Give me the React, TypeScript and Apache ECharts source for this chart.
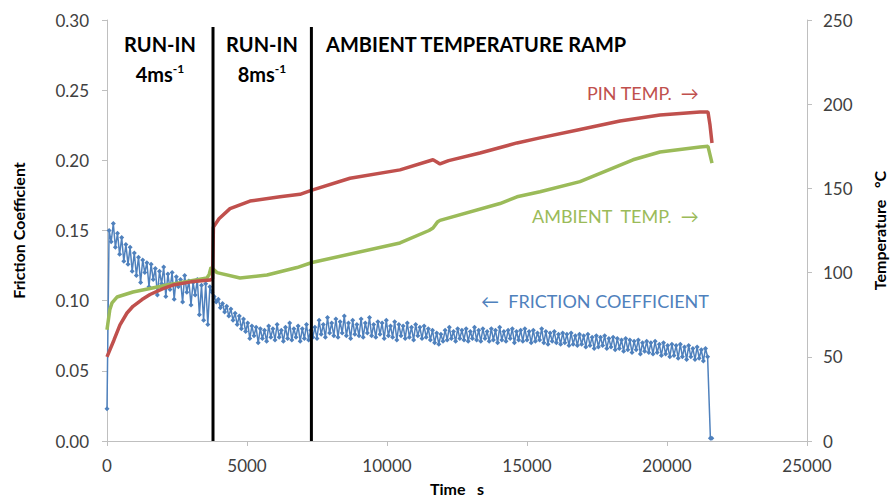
import React, { useEffect, useRef } from "react";
import * as echarts from "echarts";

// Axis scales
const X_MIN = 0;
const X_MAX = 25000;
const X_INTERVAL = 5000;
const F_MIN = 0;
const F_MAX = 0.3;
const F_INTERVAL = 0.05;
const T_MIN = 0;
const T_MAX = 250;
const T_INTERVAL = 50;

// Phase boundaries (s)
const phaseLines = [3786, 7300];
const phaseLineTop = 0.295;

// Pin temperature [time s, °C]
const pinTemp: [number, number][] = [
  [0, 50], [100, 54], [250, 60], [464, 69], [714, 76], [929, 80], [1250, 84],
  [1536, 87], [2000, 90.5], [2357, 92.6], [3000, 94.5], [3679, 95.6], [3770, 96.2],
  [3800, 127], [4000, 132], [4393, 138], [5107, 142.5], [6179, 145], [6893, 146.5],
  [7321, 149], [8679, 156], [10464, 161], [11643, 167], [11750, 166], [11893, 164.5],
  [12200, 166.5], [13321, 171], [14643, 177], [15464, 180], [16893, 185], [18321, 190],
  [19750, 193.6], [21179, 195.4], [21464, 195.4], [21536, 187.6], [21607, 177],
];

// Ambient temperature [time s, °C]
const ambientTemp: [number, number][] = [
  [0, 66], [100, 78], [179, 82], [357, 85.5], [929, 88.5], [2143, 92.6], [3571, 96.8],
  [3650, 99], [3714, 103], [3800, 102], [3929, 100], [4750, 96.8], [5714, 98.6],
  [6786, 103], [7321, 106], [10464, 117.6], [11500, 125], [11643, 126.5], [11800, 130],
  [11893, 131], [14036, 141], [14643, 145], [15464, 148], [16893, 154], [18786, 167],
  [19750, 171.6], [21179, 174.6], [21464, 175], [21607, 165],
];

// Friction coefficient, sampled every FRICTION_STEP s starting at 0
const FRICTION_STEP = 75;
const frictionValues: number[] = [
  0.023, 0.150, 0.142, 0.155, 0.138, 0.148, 0.133, 0.145, 0.128, 0.140,
  0.126, 0.138, 0.121, 0.134, 0.118, 0.131, 0.113, 0.129, 0.120, 0.127,
  0.110, 0.126, 0.115, 0.123, 0.104, 0.121, 0.112, 0.124, 0.103, 0.119,
  0.108, 0.120, 0.101, 0.117, 0.110, 0.115, 0.099, 0.118, 0.106, 0.114,
  0.097, 0.113, 0.104, 0.115, 0.090, 0.111, 0.086, 0.112, 0.083, 0.110,
  0.106, 0.103, 0.099, 0.101, 0.095, 0.098, 0.092, 0.096, 0.089, 0.094,
  0.086, 0.091, 0.083, 0.089, 0.080, 0.087, 0.078, 0.084, 0.073, 0.082,
  0.075, 0.081, 0.070, 0.080, 0.073, 0.079, 0.071, 0.082, 0.074, 0.080,
  0.072, 0.083, 0.074, 0.079, 0.071, 0.081, 0.073, 0.084, 0.072, 0.080,
  0.074, 0.082, 0.071, 0.080, 0.073, 0.083, 0.072, 0.079, 0.074, 0.081,
  0.073, 0.086, 0.076, 0.083, 0.074, 0.088, 0.077, 0.084, 0.075, 0.087,
  0.074, 0.085, 0.077, 0.089, 0.075, 0.084, 0.073, 0.086, 0.076, 0.083,
  0.075, 0.087, 0.074, 0.084, 0.077, 0.088, 0.075, 0.083, 0.074, 0.085,
  0.076, 0.084, 0.073, 0.086, 0.075, 0.082, 0.074, 0.085, 0.072, 0.083,
  0.075, 0.082, 0.073, 0.084, 0.074, 0.081, 0.072, 0.083, 0.075, 0.081,
  0.073, 0.082, 0.074, 0.080, 0.072, 0.079, 0.070, 0.077, 0.069, 0.076,
  0.071, 0.079, 0.072, 0.081, 0.073, 0.078, 0.071, 0.080, 0.073, 0.079,
  0.072, 0.080, 0.071, 0.078, 0.073, 0.081, 0.072, 0.079, 0.071, 0.080,
  0.073, 0.078, 0.071, 0.080, 0.072, 0.079, 0.070, 0.081, 0.072, 0.078,
  0.071, 0.079, 0.073, 0.080, 0.070, 0.078, 0.072, 0.079, 0.071, 0.080,
  0.072, 0.078, 0.070, 0.079, 0.071, 0.077, 0.072, 0.080, 0.070, 0.078,
  0.069, 0.077, 0.071, 0.078, 0.070, 0.076, 0.069, 0.077, 0.070, 0.076,
  0.068, 0.077, 0.069, 0.075, 0.068, 0.076, 0.069, 0.075, 0.067, 0.076,
  0.068, 0.074, 0.066, 0.075, 0.067, 0.074, 0.068, 0.075, 0.066, 0.073,
  0.067, 0.074, 0.065, 0.073, 0.066, 0.072, 0.064, 0.073, 0.065, 0.072,
  0.063, 0.071, 0.065, 0.072, 0.062, 0.070, 0.064, 0.071, 0.063, 0.070,
  0.062, 0.071, 0.063, 0.069, 0.061, 0.070, 0.062, 0.068, 0.060, 0.069,
  0.061, 0.068, 0.059, 0.069, 0.060, 0.067, 0.058, 0.068, 0.060, 0.066,
  0.058, 0.067, 0.059, 0.065, 0.057, 0.066, 0.060,
];
const frictionTail: [number, number][] = [
  [21550, 0.002],
  [21600, 0.002],
];

const BLUE = "#4F81BD";
const RED = "#C0504D";
const GREEN = "#9BBB59";
const AXIS = "#BFBFBF";
const LABEL = "#404040";
const FONT = "Lato, 'Open Sans', sans-serif";

export default function App() {
  const ref = useRef<HTMLDivElement>(null);

  useEffect(() => {
    document.body.style.margin = "0";
    if (!ref.current) return;
    const chart = echarts.init(ref.current, undefined, { renderer: "svg" });

    const friction: [number, number][] = frictionValues.map((v, i) => [i * FRICTION_STEP, v]);
    frictionTail.forEach((p) => friction.push(p));

    const boldText = (text: string, x: number, y: number, align = "center") => ({
      type: "text",
      x,
      y,
      style: {
        text,
        fill: "#000",
        font: `bold 20px ${FONT}`,
        textAlign: align,
        textVerticalAlign: "middle",
      },
    });

    const speedText = (num: string, x: number, y: number) => ({
      type: "text",
      x,
      y,
      style: {
        text: `{b|${num}ms}{s|-1}`,
        textAlign: "center",
        textVerticalAlign: "middle",
        rich: {
          b: { font: `bold 20px ${FONT}`, fill: "#000", verticalAlign: "bottom", lineHeight: 22 },
          s: { font: `bold 12px ${FONT}`, fill: "#000", verticalAlign: "top", lineHeight: 22 },
        },
      },
    });

    const colorText = (text: string, x: number, y: number, color: string) => ({
      type: "text",
      x,
      y,
      style: {
        text,
        fill: color,
        font: `18px ${FONT}`,
        textAlign: "left",
        textVerticalAlign: "middle",
      },
    });

    chart.setOption({
      animation: false,
      backgroundColor: "#fff",
      grid: {
        left: 107,
        right: 85,
        top: 20,
        bottom: 58,
        containLabel: false,
        outerBoundsMode: "none",
      },
      xAxis: {
        type: "value",
        min: X_MIN,
        max: X_MAX,
        interval: X_INTERVAL,
        name: "Time   s",
        nameLocation: "middle",
        nameGap: 39,
        nameTextStyle: { fontFamily: FONT, fontWeight: "bold", fontSize: 16, color: "#000" },
        axisLine: { show: true, onZero: false, lineStyle: { color: AXIS, width: 1 } },
        axisTick: { show: true, length: 5, lineStyle: { color: AXIS } },
        axisLabel: {
          fontFamily: FONT,
          fontSize: 17,
          color: LABEL,
          margin: 16,
          formatter: (v: number) => String(v),
        },
        splitLine: { show: false },
      },
      yAxis: [
        {
          type: "value",
          min: F_MIN,
          max: F_MAX,
          interval: F_INTERVAL,
          name: "Friction Coefficient",
          nameLocation: "middle",
          nameGap: 81,
          nameRotate: 90,
          nameTextStyle: { fontFamily: FONT, fontWeight: "bold", fontSize: 16, color: "#000" },
          axisLine: { show: true, lineStyle: { color: AXIS, width: 1 } },
          axisTick: { show: true, length: 5, lineStyle: { color: AXIS } },
          axisLabel: {
            fontFamily: FONT,
            fontSize: 17,
            color: LABEL,
            margin: 18,
            formatter: (v: number) => v.toFixed(2),
          },
          splitLine: { show: false },
        },
        {
          type: "value",
          min: T_MIN,
          max: T_MAX,
          interval: T_INTERVAL,
          position: "right",
          name: "Temperature   °C",
          nameLocation: "middle",
          nameGap: 64,
          nameRotate: 90,
          nameTextStyle: { fontFamily: FONT, fontWeight: "bold", fontSize: 16, color: "#000" },
          axisLine: { show: true, lineStyle: { color: AXIS, width: 1 } },
          axisTick: { show: true, length: 5, lineStyle: { color: AXIS } },
          axisLabel: {
            fontFamily: FONT,
            fontSize: 17,
            color: LABEL,
            margin: 16,
            formatter: (v: number) => String(v),
          },
          splitLine: { show: false },
        },
      ],
      series: [
        {
          type: "line",
          name: "Friction Coefficient",
          yAxisIndex: 0,
          data: friction,
          symbol: "diamond",
          symbolSize: 5,
          showSymbol: true,
          showAllSymbol: true,
          lineStyle: { color: BLUE, width: 1.5 },
          itemStyle: { color: BLUE },
          z: 3,
        },
        {
          type: "line",
          name: "Ambient Temp",
          yAxisIndex: 1,
          data: ambientTemp,
          symbol: "none",
          lineStyle: { color: GREEN, width: 3.5 },
          z: 4,
        },
        {
          type: "line",
          name: "Pin Temp",
          yAxisIndex: 1,
          data: pinTemp,
          symbol: "none",
          lineStyle: { color: RED, width: 3.5 },
          z: 5,
        },
        ...phaseLines.map((t) => ({
          type: "line",
          yAxisIndex: 0,
          data: [
            [t, 0],
            [t, phaseLineTop],
          ],
          symbol: "none",
          lineStyle: { color: "#000", width: 3 },
          z: 6,
        })),
      ],
      graphic: [
        boldText("RUN-IN", 160, 44),
        speedText("4", 160, 73),
        boldText("RUN-IN", 262, 44),
        speedText("8", 262, 73),
        boldText("AMBIENT TEMPERATURE RAMP", 326, 44, "left"),
        colorText("PIN TEMP.  →", 587, 93, RED),
        colorText("AMBIENT  TEMP.  →", 532, 216, GREEN),
        colorText("←  FRICTION COEFFICIENT", 481, 301, BLUE),
      ],
    });

    return () => chart.dispose();
  }, []);

  return <div ref={ref} style={{ width: 892, height: 499 }} />;
}
